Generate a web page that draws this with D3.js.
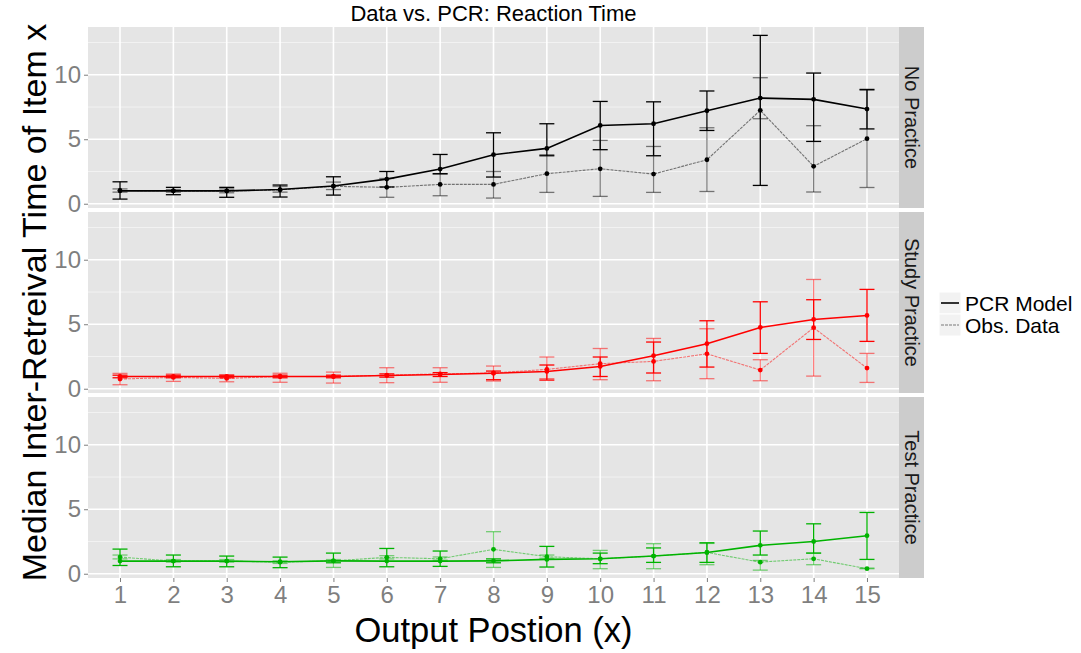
<!DOCTYPE html>
<html>
<head>
<meta charset="utf-8">
<script src="https://cdn.jsdelivr.net/npm/d3@7"></script>
<style>
  body { margin: 0; background: #fff; }
  text { font-family: "Liberation Sans", Arial, Helvetica, sans-serif; }
</style>
</head>
<body>
<script>
var width = 1081, height = 653;

// x categories and facets
var positions = [1, 2, 3, 4, 5, 6, 7, 8, 9, 10, 11, 12, 13, 14, 15];
var facets = ["No Practice", "Study Practice", "Test Practice"];
var facetColors = ["#000000", "#ff0000", "#00b300"];
var yTicks = [0, 5, 10];
var seriesNames = ["PCR Model", "Obs. Data"];

// No Practice
var noModel   = [1.0, 1.0, 1.0, 1.1, 1.37, 1.91, 2.69, 3.8, 4.29, 6.07, 6.2, 7.21, 8.19, 8.09, 7.34];
var noModelLo = [0.36, 0.7, 0.5, 0.52, 0.67, 1.3, 2.33, 2.07, 3.72, 4.19, 3.72, 5.68, 1.42, 4.83, 5.8];
var noModelHi = [1.7, 1.27, 1.27, 1.45, 2.09, 2.5, 3.82, 5.5, 6.2, 7.93, 7.9, 8.74, 13.05, 10.13, 8.86];
var noObs     = [1.03, 1.0, 0.98, 1.08, 1.35, 1.27, 1.5, 1.5, 2.33, 2.71, 2.3, 3.41, 7.24, 2.9, 5.04];
var noObsLo   = [0.9, 0.9, 0.85, 0.9, 1.1, 0.5, 0.62, 0.44, 0.88, 0.57, 0.88, 0.95, 6.59, 0.91, 1.26];
var noObsHi   = [1.15, 1.1, 1.15, 1.34, 1.68, 1.96, 2.3, 2.5, 3.8, 4.91, 4.44, 5.89, 9.77, 6.05, 8.8];

// Study Practice
var studyModel   = [0.95, 0.95, 0.95, 0.95, 0.95, 1.03, 1.1, 1.2, 1.34, 1.73, 2.56, 3.49, 4.75, 5.37, 5.68];
var studyModelLo = [0.85, 0.85, 0.85, 0.85, 0.85, 0.9, 0.95, 0.7, 0.67, 0.95, 1.22, 1.68, 2.74, 3.82, 3.67];
var studyModelHi = [1.05, 1.05, 1.05, 1.05, 1.05, 1.15, 1.25, 1.37, 1.84, 2.46, 3.62, 5.27, 6.74, 6.9, 7.7];
var studyObs     = [0.75, 0.88, 0.8, 0.95, 0.95, 1.05, 1.15, 1.22, 1.5, 1.94, 2.12, 2.71, 1.45, 4.73, 1.6];
var studyObsLo   = [0.31, 0.57, 0.54, 0.5, 0.44, 0.47, 0.5, 0.6, 0.78, 0.7, 0.62, 0.78, 0.62, 0.98, 0.49];
var studyObsHi   = [1.19, 1.14, 1.06, 1.2, 1.29, 1.63, 1.63, 1.76, 2.46, 3.12, 3.9, 4.65, 2.25, 8.47, 2.74];

// Test Practice
var testModel   = [0.98, 0.98, 0.98, 0.93, 1.0, 0.98, 0.98, 1.0, 1.11, 1.16, 1.37, 1.65, 2.2, 2.5, 2.95];
var testModelLo = [0.64, 0.54, 0.54, 0.47, 0.85, 0.54, 0.57, 0.85, 0.52, 0.78, 0.88, 0.88, 1.45, 1.6, 1.11];
var testModelHi = [1.91, 1.45, 1.37, 1.29, 1.6, 1.96, 1.76, 1.15, 2.12, 1.6, 2.0, 2.4, 3.31, 3.87, 4.75];
var testObs     = [1.29, 0.98, 0.98, 0.9, 1.0, 1.27, 1.16, 1.89, 1.32, 1.16, 1.37, 1.65, 0.9, 1.16, 0.39];
var testObsLo   = [1.15, 0.9, 0.9, 0.8, 0.49, 1.15, 1.05, 0.49, 1.2, 0.39, 0.39, 0.7, 0.28, 0.7, 0.39];
var testObsHi   = [1.45, 1.1, 1.1, 1.0, 1.1, 1.4, 1.3, 3.26, 1.45, 1.81, 2.33, 2.35, 1.03, 1.6, 0.44];

var panelData = [
  { model: [noModel, noModelLo, noModelHi], obs: [noObs, noObsLo, noObsHi] },
  { model: [studyModel, studyModelLo, studyModelHi], obs: [studyObs, studyObsLo, studyObsHi] },
  { model: [testModel, testModelLo, testModelHi], obs: [testObs, testObsLo, testObsHi] }
];

// layout
var left = 88, right = 899, stripW = 25;
var panelTop = 27, panelH = 181, panelGap = 4;

var svg = d3.select("body").append("svg")
  .attr("width", width)
  .attr("height", height);

var x = d3.scalePoint()
  .domain(positions)
  .range([left, right])
  .padding(0.6);

var y = d3.scaleLinear()
  .domain([-0.33, 13.7])
  .range([panelH, 0]);

var minorTicks = [2.5, 7.5, 12.5];

facets.forEach(function(name, p) {
  var top = panelTop + p * (panelH + panelGap);
  var col = facetColors[p];
  var g = svg.append("g").attr("transform", "translate(0," + top + ")");

  g.append("rect")
    .attr("x", left).attr("y", 0)
    .attr("width", right - left).attr("height", panelH)
    .attr("fill", "#e5e5e5");

  g.selectAll(".minor").data(minorTicks).enter().append("line")
    .attr("x1", left).attr("x2", right)
    .attr("y1", function(d) { return y(d); })
    .attr("y2", function(d) { return y(d); })
    .attr("stroke", "#f2f2f2").attr("stroke-width", 1);

  g.selectAll(".major").data(yTicks).enter().append("line")
    .attr("x1", left).attr("x2", right)
    .attr("y1", function(d) { return y(d); })
    .attr("y2", function(d) { return y(d); })
    .attr("stroke", "#ffffff").attr("stroke-width", 1.6);

  g.selectAll(".vgrid").data(positions).enter().append("line")
    .attr("x1", function(d) { return x(d); })
    .attr("x2", function(d) { return x(d); })
    .attr("y1", 0).attr("y2", panelH)
    .attr("stroke", "#ffffff").attr("stroke-width", 1.6);

  // y axis
  var yAxis = g.append("g")
    .attr("transform", "translate(" + left + ",0)")
    .call(d3.axisLeft(y).tickValues(yTicks).tickSize(4).tickPadding(3));
  yAxis.select(".domain").remove();
  yAxis.selectAll(".tick line").attr("stroke", "#7f7f7f");
  yAxis.selectAll(".tick text")
    .attr("fill", "#7f7f7f")
    .style("font-size", "24px");

  // strip
  g.append("rect")
    .attr("x", right).attr("y", 0)
    .attr("width", stripW).attr("height", panelH)
    .attr("fill", "#cccccc");
  g.append("text")
    .attr("transform", "translate(" + (right + stripW / 2) + "," + (panelH / 2) + ") rotate(90)")
    .attr("text-anchor", "middle")
    .attr("dominant-baseline", "central")
    .style("font-size", "20px")
    .attr("fill", "#1a1a1a")
    .text(name);

  var series = [
    { vals: panelData[p].obs, alpha: 0.5, width: 1.1, dash: "3,1" },
    { vals: panelData[p].model, alpha: 1, width: 1.6, dash: null }
  ];

  series.forEach(function(s) {
    var pts = positions.map(function(pos, i) {
      return { pos: pos, v: s.vals[0][i], lo: s.vals[1][i], hi: s.vals[2][i] };
    });
    var eb = g.append("g").attr("stroke", col).attr("stroke-opacity", s.alpha).attr("stroke-width", 1.3);
    eb.selectAll(".v").data(pts).enter().append("line")
      .attr("x1", function(d) { return x(d.pos); })
      .attr("x2", function(d) { return x(d.pos); })
      .attr("y1", function(d) { return y(d.lo); })
      .attr("y2", function(d) { return y(d.hi); });
    eb.selectAll(".lo").data(pts).enter().append("line")
      .attr("x1", function(d) { return x(d.pos) - 7.5; })
      .attr("x2", function(d) { return x(d.pos) + 7.5; })
      .attr("y1", function(d) { return y(d.lo); })
      .attr("y2", function(d) { return y(d.lo); });
    eb.selectAll(".hi").data(pts).enter().append("line")
      .attr("x1", function(d) { return x(d.pos) - 7.5; })
      .attr("x2", function(d) { return x(d.pos) + 7.5; })
      .attr("y1", function(d) { return y(d.hi); })
      .attr("y2", function(d) { return y(d.hi); });

    var line = d3.line()
      .x(function(d) { return x(d.pos); })
      .y(function(d) { return y(d.v); });
    g.append("path")
      .datum(pts)
      .attr("d", line)
      .attr("fill", "none")
      .attr("stroke", col)
      .attr("stroke-opacity", s.alpha)
      .attr("stroke-width", s.width)
      .attr("stroke-dasharray", s.dash);

    g.selectAll(null).data(pts).enter().append("circle")
      .attr("cx", function(d) { return x(d.pos); })
      .attr("cy", function(d) { return y(d.v); })
      .attr("r", 2.4)
      .attr("fill", col);
  });
});

// x axis under last panel
var bottom = panelTop + 3 * panelH + 2 * panelGap;
var xAxis = svg.append("g")
  .attr("transform", "translate(0," + bottom + ")")
  .call(d3.axisBottom(x).tickSize(4).tickPadding(4));
xAxis.select(".domain").remove();
xAxis.selectAll(".tick line").attr("stroke", "#7f7f7f");
xAxis.selectAll(".tick text")
  .attr("fill", "#7f7f7f")
  .style("font-size", "24px");

// titles
svg.append("text")
  .attr("x", (left + right) / 2).attr("y", 21)
  .attr("text-anchor", "middle")
  .style("font-size", "22px")
  .text("Data vs. PCR: Reaction Time");

svg.append("text")
  .attr("x", (left + right) / 2).attr("y", 642)
  .attr("text-anchor", "middle")
  .style("font-size", "34.5px")
  .text("Output Postion (x)");

svg.append("text")
  .attr("transform", "translate(46," + (panelTop + (bottom - panelTop) / 2) + ") rotate(-90)")
  .attr("text-anchor", "middle")
  .style("font-size", "34px")
  .text("Median Inter-Retreival Time of Item x");

// legend
var legend = svg.append("g").attr("transform", "translate(939,292)");
var key = legend.selectAll(".key").data(seriesNames).enter().append("g")
  .attr("transform", function(d, i) { return "translate(0," + i * 22 + ")"; });
key.append("rect")
  .attr("width", 22).attr("height", 22)
  .attr("fill", "#f2f2f2").attr("stroke", "#ffffff");
key.append("line")
  .attr("x1", 2).attr("x2", 20).attr("y1", 11).attr("y2", 11)
  .attr("stroke", "#000")
  .attr("stroke-opacity", function(d, i) { return i ? 0.5 : 1; })
  .attr("stroke-width", function(d, i) { return i ? 1.1 : 1.6; })
  .attr("stroke-dasharray", function(d, i) { return i ? "3,1" : null; });
key.append("text")
  .attr("x", 26).attr("y", 11)
  .attr("dominant-baseline", "central")
  .style("font-size", "21px")
  .text(function(d) { return d; });
</script>
</body>
</html>
